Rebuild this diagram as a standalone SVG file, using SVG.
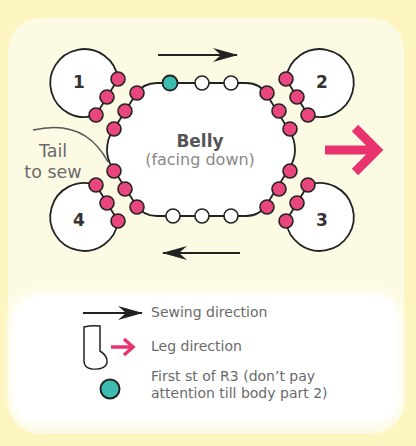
<svg xmlns="http://www.w3.org/2000/svg" width="416" height="446" viewBox="0 0 416 446">
<defs>
<style>
.ln{fill:none;stroke:#222;stroke-width:1.8}
.sh{fill:#fff;stroke:#222;stroke-width:1.8}
.pk{fill:#e8467c;stroke:#222;stroke-width:1.6}
.op{fill:#fff;stroke:#222;stroke-width:1.6}
.tl{fill:#3dbdb1;stroke:#222;stroke-width:1.8}
.num{font-family:"DejaVu Sans",sans-serif;font-size:17px;font-weight:bold;fill:#333;text-anchor:middle}
.gr{font-family:"DejaVu Sans",sans-serif;fill:#6a6a6a}
.pa{fill:none;stroke:#e8336f;stroke-linecap:butt;stroke-linejoin:miter}
</style>
<filter id="blur" x="-10%" y="-20%" width="120%" height="140%"><feGaussianBlur stdDeviation="4"/></filter>
<marker id="ah" viewBox="0 0 26 14" refX="24" refY="7" markerWidth="26" markerHeight="14" markerUnits="userSpaceOnUse" orient="auto">
<path d="M0,0 L25,7 L0,14 L8,7 Z" fill="#222"/>
</marker>
</defs>
<rect x="0" y="0" width="416" height="446" fill="#fcf5bf"/>
<rect x="8" y="18" width="396" height="416" rx="32" fill="#fdfae4"/>
<g id="legend-box">
<rect x="10" y="293" width="392" height="132" rx="28" fill="#fff" filter="url(#blur)"/>
<rect x="16" y="298" width="380" height="122" rx="24" fill="#fff"/>
</g>
<g id="connectors">
<path class="ln" d="M33,130 Q85,118 108,162" style="stroke:#555;stroke-width:1.4"/>
<line x1="158" y1="55" x2="237" y2="55" stroke="#222" stroke-width="2" marker-end="url(#ah)"/>
<line x1="240" y1="253" x2="163" y2="253" stroke="#222" stroke-width="2" marker-end="url(#ah)"/>
<g id="leg-arrow">
<line class="pa" x1="325" y1="150" x2="377" y2="150" stroke-width="9"/>
<polyline class="pa" points="355,128 377,150 355,172" stroke-width="9"/>
</g>
</g>
<g id="belly">
<path class="sh" d="M246,83 Q260,83 267,95 L290,132 Q295,140 295,150 Q295,159 290,167 L267,204 Q260,216 246,216 L157,216 Q143,216 136,205 L112,167 Q107,159 107,150 Q107,140 112,132 L136,94 Q143,83 157,83 Z"/>
<circle class="tl" cx="170" cy="83" r="7.5"/>
<circle class="op" cx="202" cy="83" r="7"/>
<circle class="op" cx="231" cy="83" r="7"/>
<circle class="op" cx="173" cy="216" r="7"/>
<circle class="op" cx="202" cy="216" r="7"/>
<circle class="op" cx="231" cy="216" r="7"/>
<circle class="pk" cx="137" cy="93" r="7"/>
<circle class="pk" cx="125" cy="111" r="7"/>
<circle class="pk" cx="114" cy="129" r="7"/>
<circle class="pk" cx="267" cy="93" r="7"/>
<circle class="pk" cx="279" cy="111" r="7"/>
<circle class="pk" cx="290" cy="129" r="7"/>
<circle class="pk" cx="114" cy="171" r="7"/>
<circle class="pk" cx="125" cy="189" r="7"/>
<circle class="pk" cx="137" cy="207" r="7"/>
<circle class="pk" cx="290" cy="171" r="7"/>
<circle class="pk" cx="279" cy="189" r="7"/>
<circle class="pk" cx="267" cy="207" r="7"/>
<text class="gr" x="200" y="147" text-anchor="middle" font-size="17" font-weight="bold" fill="#555" style="fill:#555">Belly</text>
<text class="gr" x="200" y="165" text-anchor="middle" font-size="16" style="fill:#888">(facing down)</text>
</g>
<g id="leg1">
<path class="sh" d="M118,79 A34,34 0 1 0 96,115 Z"/>
<circle class="pk" cx="118" cy="79" r="7"/>
<circle class="pk" cx="107" cy="97" r="7"/>
<circle class="pk" cx="96" cy="115" r="7"/>
<text class="num" x="79" y="88">1</text>
</g>
<g id="leg2">
<path class="sh" d="M286,79 A34,34 0 1 1 308,115 Z"/>
<circle class="pk" cx="286" cy="79" r="7"/>
<circle class="pk" cx="297" cy="97" r="7"/>
<circle class="pk" cx="308" cy="115" r="7"/>
<text class="num" x="322" y="88">2</text>
</g>
<g id="leg3">
<path class="sh" d="M308,185 A34,34 0 1 1 286,221 Z"/>
<circle class="pk" cx="308" cy="185" r="7"/>
<circle class="pk" cx="297" cy="203" r="7"/>
<circle class="pk" cx="286" cy="221" r="7"/>
<text class="num" x="322" y="226">3</text>
</g>
<g id="leg4">
<path class="sh" d="M96,185 A34,34 0 1 0 118,221 Z"/>
<circle class="pk" cx="96" cy="185" r="7"/>
<circle class="pk" cx="107" cy="203" r="7"/>
<circle class="pk" cx="118" cy="221" r="7"/>
<text class="num" x="79" y="226">4</text>
</g>
<g id="tail-label">
<text class="gr" x="53" y="157" text-anchor="middle" font-size="17.5">Tail</text>
<text class="gr" x="53" y="178" text-anchor="middle" font-size="17.5">to sew</text>
</g>
<g id="legend">
<line x1="83" y1="313" x2="142" y2="313" stroke="#222" stroke-width="1.8" marker-end="url(#ah)"/>
<text class="gr" x="151" y="317" font-size="14">Sewing direction</text>
<path class="sh" style="stroke-width:1.5" d="M84,327 Q92,325 100,326 L100,351 Q108,356 107,363 Q105,370 92,369 Q84,368 84,361 Z"/>
<line class="pa" x1="111" y1="347" x2="133" y2="347" stroke-width="3.5"/>
<polyline class="pa" points="124,339 133,347 124,355" stroke-width="3.5"/>
<text class="gr" x="151" y="351" font-size="14">Leg direction</text>
<circle class="tl" cx="110" cy="389" r="9.5" style="stroke-width:2"/>
<text class="gr" x="151" y="381" font-size="14">First st of R3 (don’t pay</text>
<text class="gr" x="151" y="398" font-size="14">attention till body part 2)</text>
</g>
</svg>
